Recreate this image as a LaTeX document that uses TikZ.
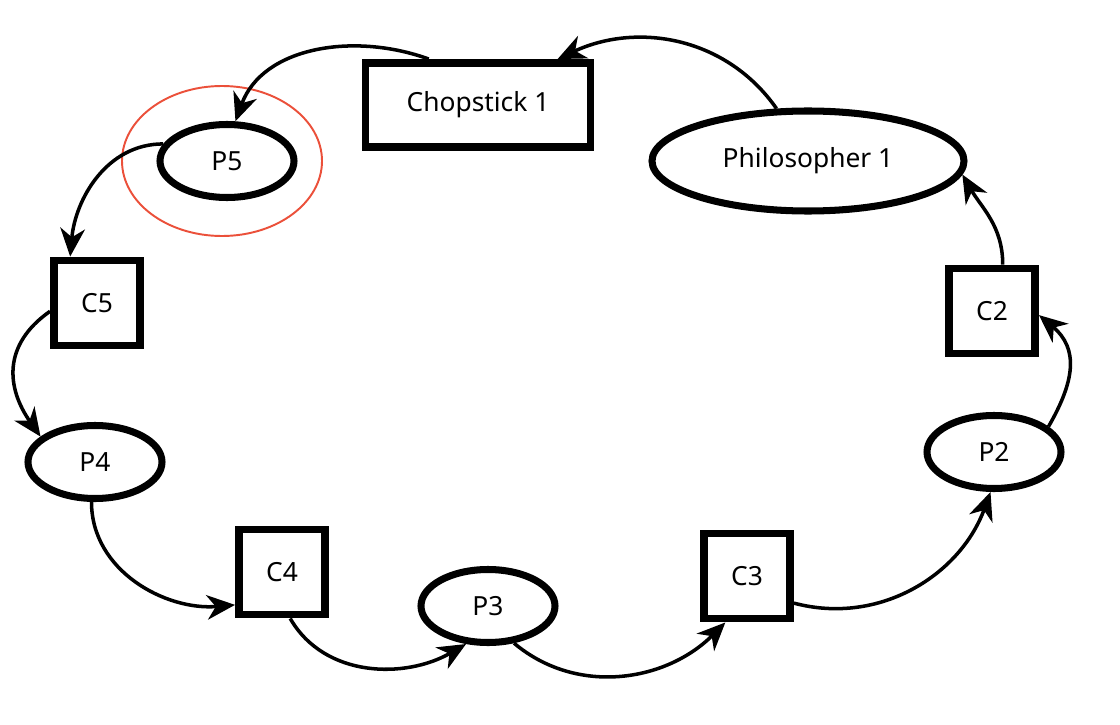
\documentclass[tikz,border=0pt]{standalone}
\usepackage{fontspec}
\setmainfont{Noto Sans}
\usepackage{tikz}
\usetikzlibrary{arrows.meta, positioning, shapes}
\usepackage{xcolor}
\definecolor{hlred}{RGB}{235,80,58}

\begin{document}
\begin{tikzpicture}[
  philo/.style={draw, ellipse, line width=4pt, inner sep=0pt, minimum width=2.68cm, minimum height=1.46cm, font=\fontsize{15}{18}\selectfont},
  stick/.style={draw, rectangle, line width=4.5pt, inner sep=0pt, minimum width=1.72cm, minimum height=1.7cm, font=\fontsize{15}{18}\selectfont},
  link/.style={-{Stealth[length=16pt, width=14pt, inset=5pt]}, line width=2pt}
]
  \useasboundingbox (0,0) rectangle (22.4,14.48);
  % Philosophers
  \node[philo, minimum width=6.24cm, minimum height=2.0cm] (phil1) at (16.16,11.26) {Philosopher 1};
  \node[philo] (p2) at (19.88,5.44) {P2};
  \node[philo] (p3) at (9.76,2.36) {P3};
  \node[philo] (p4) at (1.90,5.24) {P4};
  \node[philo] (p5) at (4.54,11.26) {P5};
  % Chopsticks
  \node[stick, minimum width=4.5cm, minimum height=1.68cm] (chop1) at (9.56,12.38) {Chopstick 1};
  \node[stick] (c2) at (19.84,8.26) {C2};
  \node[stick] (c3) at (14.94,2.96) {C3};
  \node[stick] (c4) at (5.64,3.04) {C4};
  \node[stick] (c5) at (1.94,8.42) {C5};
  % Highlight
  \draw[hlred, line width=1.1pt] (4.44,11.26) ellipse [x radius=2.0cm, y radius=1.5cm];
  % Cycle
  \draw[link] (phil1.121) to[out=125, in=25] (chop1.30);
  \draw[link] (chop1.137) to[out=160, in=70] (p5.78);
  \draw[link] (p5.165) to[out=180, in=85] (c5.120);
  \draw[link] (c5.190) to[out=215, in=125, looseness=1.2] (p4.155);
  \draw[link] (p4.265) to[out=270, in=185] (c4.215);
  \draw[link] (c4.280) to[out=300, in=210] (p3.240);
  \draw[link] (p3.305) to[out=320, in=225] (c3.245);
  \draw[link] (c3.330) to[out=-15, in=250] (p2.265);
  \draw[link] (p2.25) to[out=60, in=-40, looseness=1.2] (c2.355);
  \draw[link] (c2.77) to[out=90, in=-60] (phil1.355);
\end{tikzpicture}
\end{document}
